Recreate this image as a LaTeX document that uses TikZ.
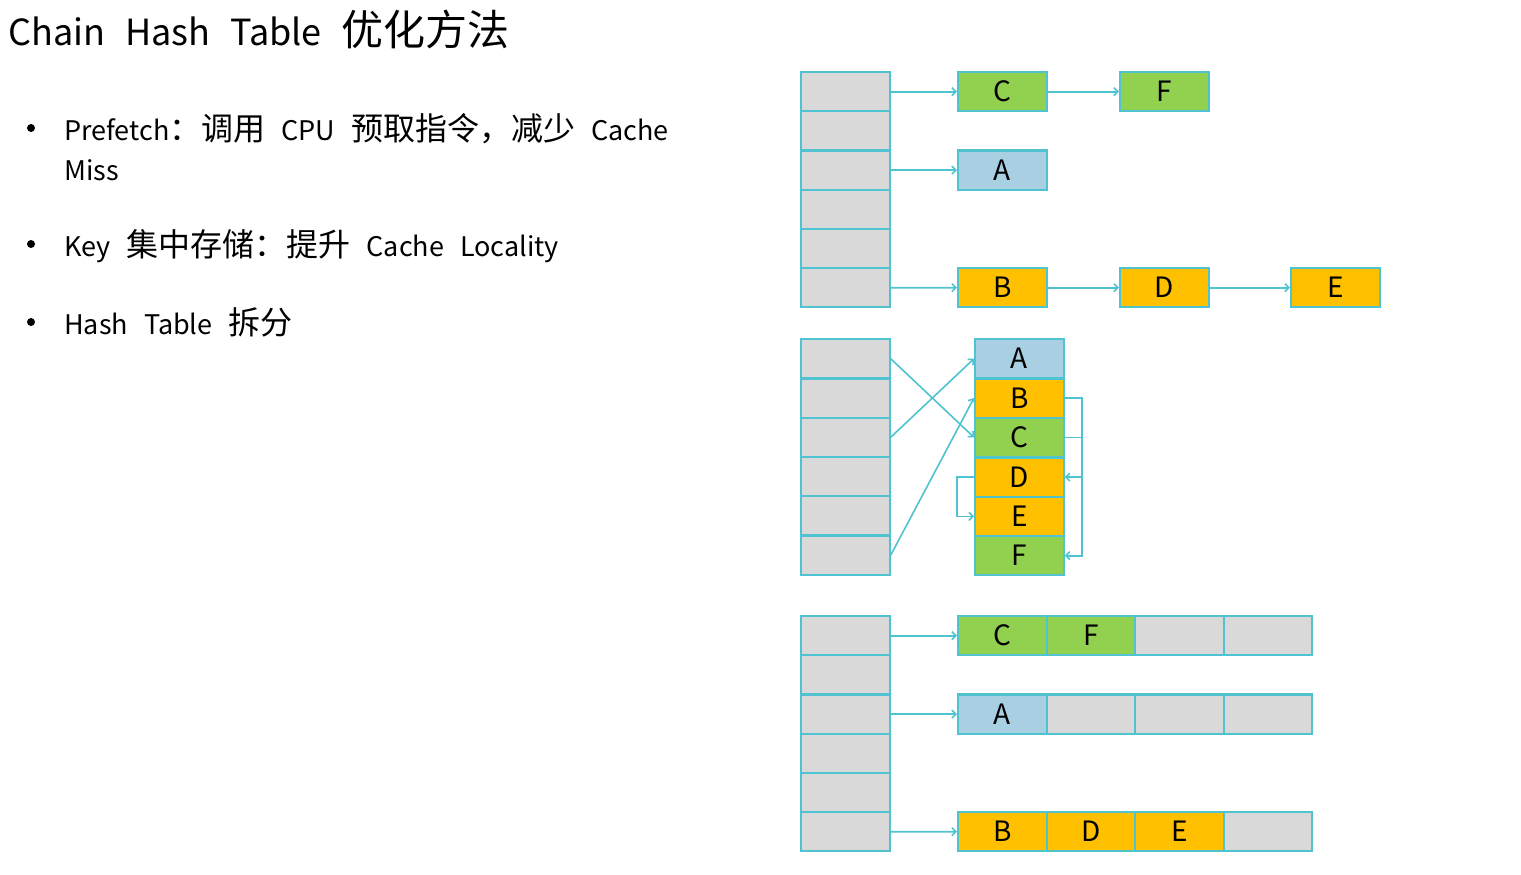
\documentclass[tikz,border=0pt]{standalone}
\usepackage{fontspec}
\setmainfont{Noto Sans CJK SC}
\usetikzlibrary{arrows.meta}
\definecolor{bord}{HTML}{4FC3CF}
\definecolor{cgreen}{HTML}{92D050}
\definecolor{cblue}{HTML}{A9CFE3}
\definecolor{corange}{HTML}{FFC000}
\definecolor{cgrey}{HTML}{D9D9D9}
\newcommand\zhb[1]{{\fontsize{32}{32}\selectfont #1}}
\newcommand\zht[1]{{\fontsize{42}{42}\selectfont #1}}
\newcommand\bsp{\hspace{16pt}}
\newcommand\tsp{\hspace{20pt}}
\begin{document}
\begin{tikzpicture}[x=1pt,y=-1pt,
  cellbox/.style={draw=bord, line width=2.2pt, inner sep=0pt, anchor=north west,
    minimum width=88.5pt, minimum height=39.2pt, font=\fontsize{28}{28}\selectfont},
  bucket/.style={cellbox, fill=cgrey},
  gcell/.style={cellbox, fill=cgreen},
  bcell/.style={cellbox, fill=cblue},
  ocell/.style={cellbox, fill=corange},
  ecell/.style={cellbox, fill=cgrey},
  conn/.style={draw=bord, line width=1.6pt, -{Straight Barb[length=4pt,width=8pt]}},
  titletext/.style={anchor=base west, inner sep=0pt, font=\fontsize{36}{36}\selectfont},
  bullettext/.style={anchor=base west, inner sep=0pt, font=\fontsize{27}{27}\selectfont},
  dot/.style={circle, fill=black, inner sep=0pt, minimum size=8pt}
]
\useasboundingbox[fill=white] (0,0) rectangle (1521,875);

% ---------- text ----------
\node[titletext] (title) at (8,46) {Chain\tsp Hash\tsp Table\tsp\zht{优化方法}};
\node[dot] (d1) at (31,128) {};
\node[bullettext] (t1) at (64,140) {Prefetch\zhb{：调用}\bsp CPU\bsp\zhb{预取指令，减少}\bsp Cache};
\node[bullettext] (t1b) at (64,180) {Miss};
\node[dot] (d2) at (31,244) {};
\node[bullettext] (t2) at (64,256) {Key\bsp\zhb{集中存储：提升}\bsp Cache\bsp Locality};
\node[dot] (d3) at (31,322) {};
\node[bullettext] (t3) at (64,334) {Hash\bsp Table\bsp\zhb{拆分}};

% ---------- top: chained lists ----------
\foreach \i in {1,...,6} \node[bucket] (ta\i) at (800,{71+39.2*(\i-1)}) {};
\node[gcell] (tC) at (957,71) {C};
\node[gcell] (tF) at (1119,71) {F};
\node[bcell] (tA) at (957,149.4) {A};
\node[ocell] (tB) at (957,267) {B};
\node[ocell] (tD) at (1119,267) {D};
\node[ocell] (tE) at (1290,267) {E};
\draw[conn] (ta1.east) -- (tC.west);
\draw[conn] (tC.east) -- (tF.west);
\draw[conn] (ta3.east) -- (tA.west);
\draw[conn] (ta6.east) -- (tB.west);
\draw[conn] (tB.east) -- (tD.west);
\draw[conn] (tD.east) -- (tE.west);

% ---------- middle: keys stored together ----------
\foreach \i in {1,...,6} \node[bucket] (mb\i) at (800,{338+39.3*(\i-1)}) {};
\node[bcell] (mA) at (974,338) {A};
\node[ocell] (mB) at (974,377.3) {B};
\node[gcell] (mC) at (974,416.6) {C};
\node[ocell] (mD) at (974,456.4) {D};
\node[ocell] (mE) at (974,495.7) {E};
\node[gcell] (mF) at (974,535) {F};
\draw[conn] (mb1.east) -- (mC.west);
\draw[conn] (mb3.east) -- (mA.west);
\draw[conn] (mb6.east) -- (mB.west);
\draw[conn] (mB.east) -- ++(17,0) |- (mD.east);
\draw[conn] (mC.east) -- ++(17,0) |- (mF.east);
\draw[conn] (mD.west) -- ++(-17,0) |- (mE.west);

% ---------- bottom: split arrays ----------
\foreach \i in {1,...,6} \node[bucket] (bb\i) at (800,{615+39.2*(\i-1)}) {};
\node[gcell] (bC) at (957,615) {C};
\node[gcell] (bF) at (1045.5,615) {F};
\node[ecell] (bG1) at (1134,615) {};
\node[ecell] (bG2) at (1222.5,615) {};
\node[bcell] (bA) at (957,693.4) {A};
\node[ecell] (bG3) at (1045.5,693.4) {};
\node[ecell] (bG4) at (1134,693.4) {};
\node[ecell] (bG5) at (1222.5,693.4) {};
\node[ocell] (bB) at (957,811) {B};
\node[ocell] (bD) at (1045.5,811) {D};
\node[ocell] (bE) at (1134,811) {E};
\node[ecell] (bG6) at (1222.5,811) {};
\draw[conn] (bb1.east) -- (bC.west);
\draw[conn] (bb3.east) -- (bA.west);
\draw[conn] (bb6.east) -- (bB.west);
\end{tikzpicture}
\end{document}
